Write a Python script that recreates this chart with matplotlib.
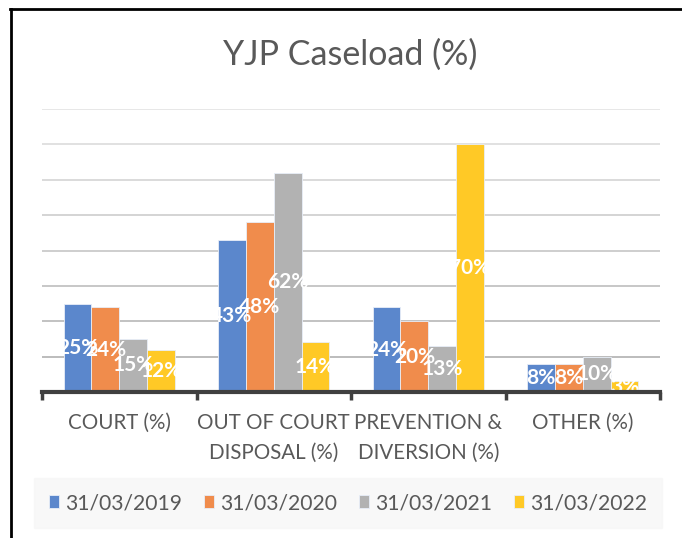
import matplotlib
matplotlib.use("Agg")
import matplotlib.pyplot as plt
import numpy as np
from matplotlib.lines import Line2D

# data
categories = ["COURT (%)", "OUT OF COURT\nDISPOSAL (%)", "PREVENTION &\nDIVERSION (%)", "OTHER (%)"]
series_names = ["31/03/2019", "31/03/2020", "31/03/2021", "31/03/2022"]
court = [25, 24, 15, 12]
out_of_court = [43, 48, 62, 14]
prevention = [24, 20, 13, 70]
other = [8, 8, 10, 3]
colors = ["#5B87CC", "#F08C4C", "#B2B2B2", "#FFC926"]

values = np.array([court, out_of_court, prevention, other])  # rows = categories

plt.rcParams["font.family"] = ["Lato", "DejaVu Sans"]
text_grey = "#595959"

fig = plt.figure(figsize=(6.82, 5.38), dpi=100)
W, H = 682, 538
ax = fig.add_axes([42 / W, (H - 392) / H, (660 - 42) / W, (392 - 109) / H])

x = np.arange(len(categories))
bar_w = 0.18
for i, name in enumerate(series_names):
    pos = x + (i - 1.5) * bar_w
    bars = ax.bar(pos, values[:, i], width=bar_w, color=colors[i],
                  edgecolor="#E8EEF8", linewidth=0.6, label=name, zorder=3)
    for b, v in zip(bars, values[:, i]):
        ax.text(b.get_x() + b.get_width() / 2, v / 2, f"{v}%", ha="center", va="center",
                color="white", fontsize=15, fontweight="bold", zorder=4)

ax.set_xlim(-0.5, len(categories) - 0.5)
ax.set_ylim(0, 80)
ax.set_yticks(np.arange(0, 81, 10))
ax.tick_params(axis="y", length=0, labelleft=False)
ax.grid(axis="y", linewidth=1.2, zorder=0)
grid_cols = np.linspace(0.66, 0.89, 9)
for gl, c in zip(ax.get_ygridlines(), grid_cols):
    gl.set_color(str(c))

ax.set_xticks(x)
ax.set_xticklabels(categories, fontsize=14.8, color=text_grey, linespacing=1.6)
ax.tick_params(axis="x", which="major", length=0, pad=15)
ax.set_xticks(np.arange(-0.5, len(categories), 1), minor=True)
ax.tick_params(axis="x", which="minor", length=6, width=2.5, color="#404040", direction="out")

for s in ["left", "right", "top"]:
    ax.spines[s].set_visible(False)
ax.spines["bottom"].set_color("#404040")
ax.spines["bottom"].set_linewidth(3)
ax.spines["bottom"].set_zorder(5)

fig.text(350 / W, 1 - 55 / H, "YJP Caseload (%)", ha="center", va="center",
         fontsize=24.5, color=text_grey)

leg = fig.legend(loc="center", bbox_to_anchor=(348 / W, 1 - 503 / H), ncol=4,
                 frameon=True, fontsize=15.2, handlelength=0.5, handleheight=0.5,
                 handletextpad=0.3, columnspacing=1.0, borderpad=0.7)
leg.get_frame().set_facecolor("#F7F7F7")
leg.get_frame().set_edgecolor("#F7F7F7")
leg.get_frame().set_boxstyle("square", pad=0)
for t in leg.get_texts():
    t.set_color(text_grey)

# outer border (top and left of the chart frame)
fig.add_artist(Line2D([10 / W, 1], [1 - 9 / H, 1 - 9 / H], color="black", linewidth=2))
fig.add_artist(Line2D([11 / W, 11 / W], [0, 1 - 9 / H], color="black", linewidth=2))

fig.savefig("out.png", dpi=100)
